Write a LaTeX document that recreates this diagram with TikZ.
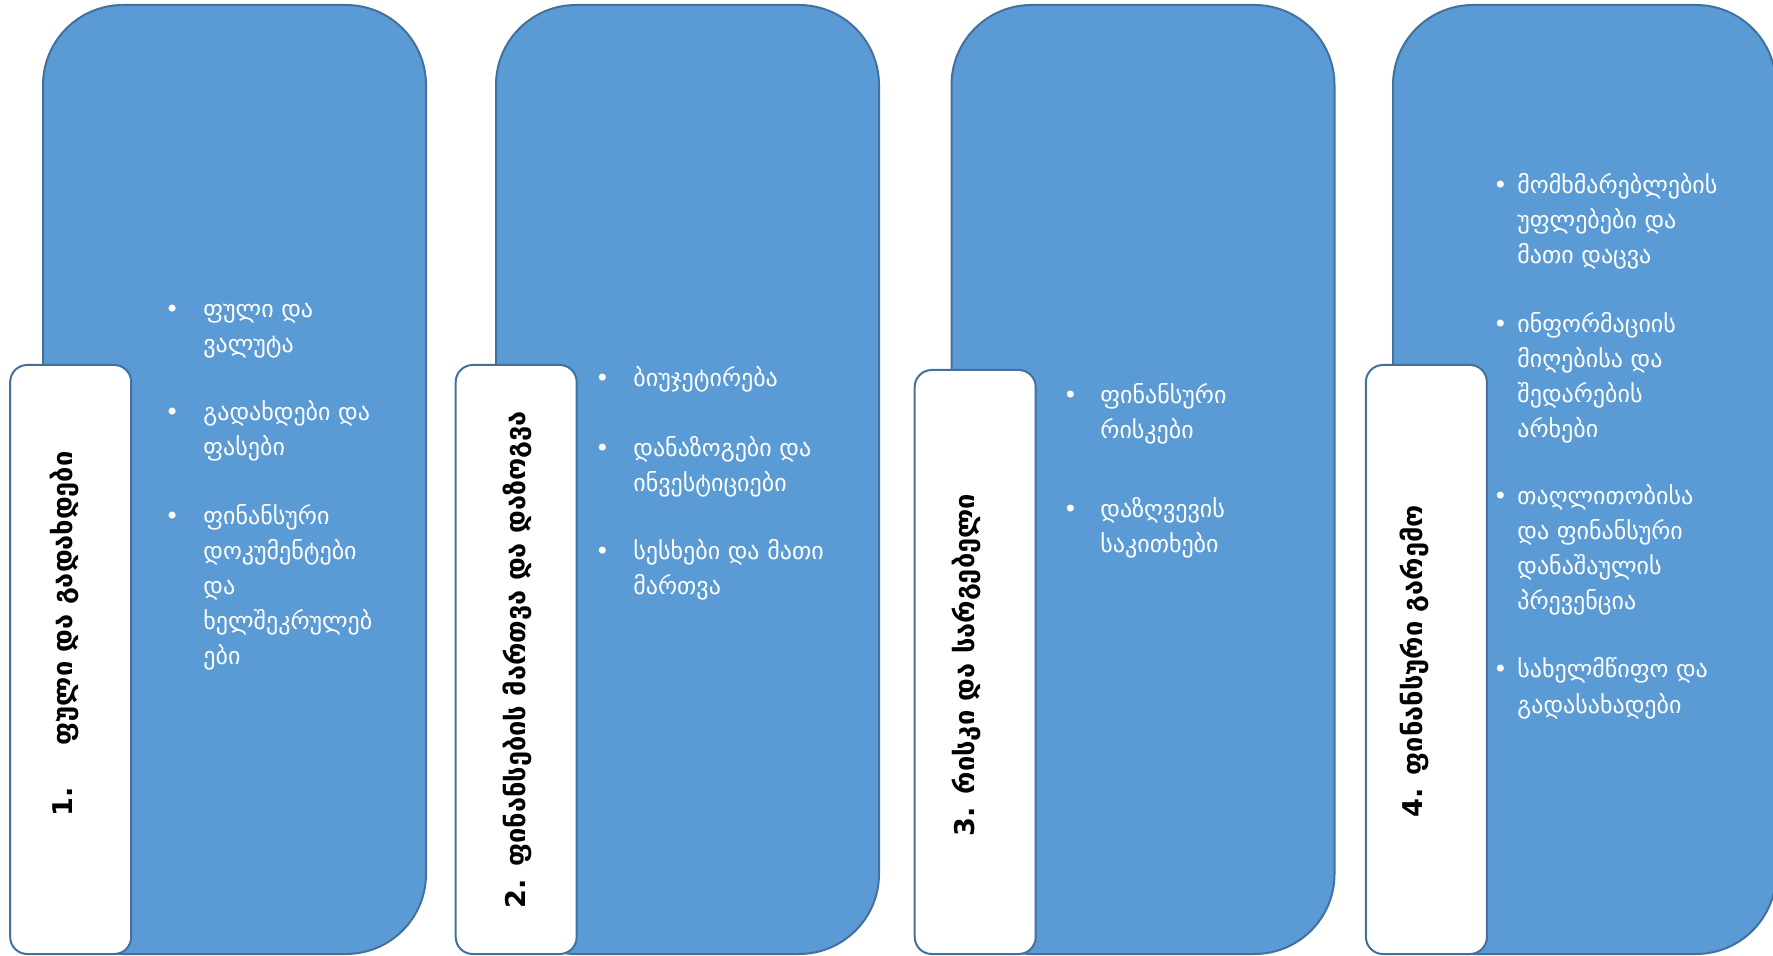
\documentclass[tikz,border=0pt]{standalone}
\usepackage{fontspec}
\setmainfont{DejaVu Sans}
\definecolor{boxblue}{HTML}{5B9BD5}
\definecolor{boxedge}{HTML}{41719C}
\newcommand{\bulletat}[1]{\llap{•\hspace{#1}}}
\tikzset{
  bluebox/.style={draw=boxedge, fill=boxblue, line width=1pt, rounded corners=40pt,
    minimum width=191.5pt, minimum height=474.5pt, inner sep=0pt},
  whitebox/.style={draw=boxedge, fill=white, line width=1pt, rounded corners=8.5pt,
    minimum width=60.5pt, inner sep=0pt},
  titletext/.style={rotate=90, font=\fontsize{13.6}{16}\selectfont\bfseries, text=black, inner sep=0pt},
  itemtext/.style={anchor=base west, text=white, inner sep=0pt, font=\fontsize{12}{17.5}\selectfont},
}
\begin{document}
\begin{tikzpicture}[x=0.5pt, y=-0.5pt]
\useasboundingbox (0,0) rectangle (1773,956);
\clip (0,0) rectangle (1773,956);
% group 1
\node[bluebox] (b1) at (234.5,479.5) {};
\node[whitebox, minimum height=294.5pt] (w1) at (70.7,659.5) {};
\node[titletext] (t1) at (64,634) {1.\hspace{21pt}ფული და გადახდები};
\node[itemtext] (i11) at (203,318) {\bulletat{12.1pt}\begin{tabular}[t]{@{}l@{}}ფული და\\ვალუტა\end{tabular}};
\node[itemtext] (i12) at (203,421) {\bulletat{12.1pt}\begin{tabular}[t]{@{}l@{}}გადახდები და\\ფასები\end{tabular}};
\node[itemtext] (i13) at (203,525) {\bulletat{12.1pt}\begin{tabular}[t]{@{}l@{}}ფინანსური\\დოკუმენტები\\და\\ხელშეკრულებ\\ები\end{tabular}};
% group 2
\node[bluebox] (b2) at (687.5,479.5) {};
\node[whitebox, minimum height=294.5pt] (w2) at (516.2,659.5) {};
\node[titletext] (t2) at (517,660) {2. ფინანსების მართვა და დაზოგვა};
\node[itemtext] (i21) at (633,387) {\bulletat{12pt}\begin{tabular}[t]{@{}l@{}}ბიუჯეტირება\end{tabular}};
\node[itemtext] (i22) at (633,457) {\bulletat{12pt}\begin{tabular}[t]{@{}l@{}}დანაზოგები და\\ინვესტიციები\end{tabular}};
\node[itemtext] (i23) at (633,560) {\bulletat{12pt}\begin{tabular}[t]{@{}l@{}}სესხები და მათი\\მართვა\end{tabular}};
% group 3
\node[bluebox] (b3) at (1143,479.5) {};
\node[whitebox, minimum height=292pt] (w3) at (975.2,662) {};
\node[titletext] (t3) at (966,665) {3. რისკი და სარგებელი};
\node[itemtext] (i31) at (1100,404) {\bulletat{11.5pt}\begin{tabular}[t]{@{}l@{}}ფინანსური\\რისკები\end{tabular}};
\node[itemtext] (i32) at (1100,518) {\bulletat{11.5pt}\begin{tabular}[t]{@{}l@{}}დაზღვევის\\საკითხები\end{tabular}};
% group 4
\node[bluebox] (b4) at (1584.5,479.5) {};
\node[whitebox, minimum height=294.5pt] (w4) at (1426.4,659.5) {};
\node[titletext] (t4) at (1414,661) {4. ფინანსური გარემო};
\node[itemtext] (i41) at (1517,194) {\bulletat{5pt}\begin{tabular}[t]{@{}l@{}}მომხმარებლების\\უფლებები და\\მათი დაცვა\end{tabular}};
\node[itemtext] (i42) at (1517,333) {\bulletat{5pt}\begin{tabular}[t]{@{}l@{}}ინფორმაციის\\მიღებისა და\\შედარების\\არხები\end{tabular}};
\node[itemtext] (i43) at (1517,505) {\bulletat{5pt}\begin{tabular}[t]{@{}l@{}}თაღლითობისა\\და ფინანსური\\დანაშაულის\\პრევენცია\end{tabular}};
\node[itemtext] (i44) at (1517,678) {\bulletat{5pt}\begin{tabular}[t]{@{}l@{}}სახელმწიფო და\\გადასახადები\end{tabular}};
\end{tikzpicture}
\end{document}
